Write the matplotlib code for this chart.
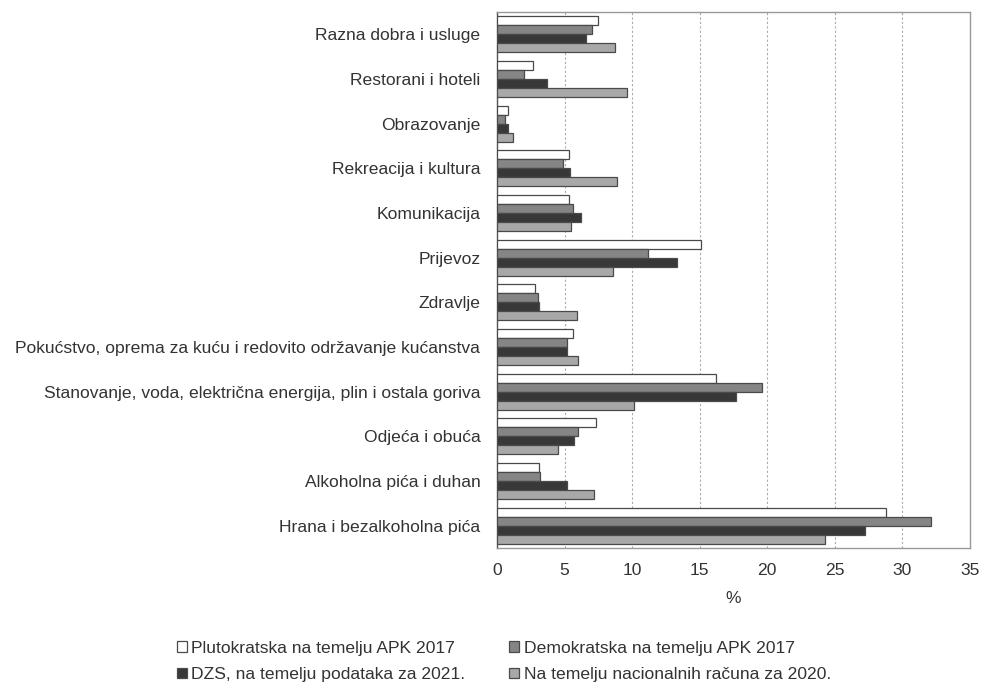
import numpy as np
import matplotlib
matplotlib.use('Agg')
from matplotlib import pyplot as plt

plt.rcParams['font.family'] = ['Liberation Sans', 'DejaVu Sans']

# categories, bottom to top
categories = [
    "Hrana i bezalkoholna pića",
    "Alkoholna pića i duhan",
    "Odjeća i obuća",
    "Stanovanje, voda, električna energija, plin i ostala goriva",
    "Pokućstvo, oprema za kuću i redovito održavanje kućanstva",
    "Zdravlje",
    "Prijevoz",
    "Komunikacija",
    "Rekreacija i kultura",
    "Obrazovanje",
    "Restorani i hoteli",
    "Razna dobra i usluge",
]

plutokratska = [28.8, 3.1, 7.3, 16.2, 5.6, 2.8, 15.1, 5.3, 5.3, 0.8, 2.7, 7.5]
demokratska = [32.1, 3.2, 6.0, 19.6, 5.2, 3.0, 11.2, 5.6, 4.9, 0.6, 2.0, 7.0]
dzs_2021 = [27.2, 5.2, 5.7, 17.7, 5.2, 3.1, 13.3, 6.2, 5.4, 0.8, 3.7, 6.6]
nacionalni_2020 = [24.3, 7.2, 4.5, 10.1, 6.0, 5.9, 8.6, 5.5, 8.9, 1.2, 9.6, 8.7]

series_names = [
    "Plutokratska na temelju APK 2017",
    "Demokratska na temelju APK 2017",
    "DZS, na temelju podataka za 2021.",
    "Na temelju nacionalnih računa za 2020.",
]

fs = 12.6
fig = plt.figure(figsize=(9.83, 6.83), dpi=100)
ax = fig.add_axes([0.5056, 0.1977, 0.4812, 0.7847])

y = np.arange(len(categories))
h = 0.2
series = [plutokratska, demokratska, dzs_2021, nacionalni_2020]
colors = ["#ffffff", "#858585", "#383838", "#a8a8a8"]
offsets = [1.5, 0.5, -0.5, -1.5]
bars = []
for vals, col, off, name in zip(series, colors, offsets, series_names):
    b = ax.barh(y + off * h, vals, height=h, color=col, edgecolor="#4a4a4a",
                linewidth=0.9, label=name, zorder=3)
    bars.append(b)

ax.set_xlim(0, 35)
ax.set_ylim(-0.5, len(categories) - 0.5)
ax.set_xticks(range(0, 36, 5))
ax.set_yticks(y)
ax.set_yticklabels(categories)
ax.tick_params(axis='both', length=0, labelsize=fs, colors="#333333")
ax.tick_params(axis='y', pad=12)
ax.tick_params(axis='x', pad=11)
ax.xaxis.grid(True, linestyle=(0, (2, 2)), color="#aaaaaa", linewidth=0.8, zorder=0)
for s in ax.spines.values():
    s.set_color("#999999")
    s.set_linewidth(1.0)
ax.spines['left'].set_color("#555555")
ax.set_xlabel("%", fontsize=fs, color="#333333", labelpad=9)

order = [0, 2, 1, 3]
fig.legend([bars[i] for i in order], [series_names[i] for i in order],
           ncol=2, loc='lower left', bbox_to_anchor=(0.164, -0.022),
           frameon=False, fontsize=fs, handlelength=0.57, handleheight=0.57,
           handletextpad=0.25, columnspacing=2.5, labelspacing=0.65,
           labelcolor="#333333")

plt.savefig("out.png", dpi=100)
